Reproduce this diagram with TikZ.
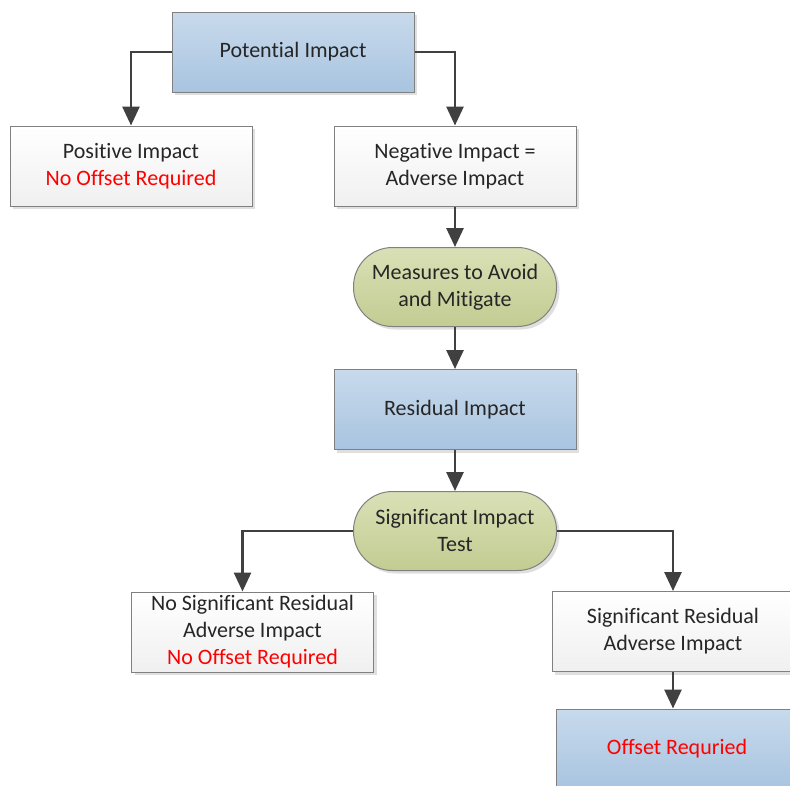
\documentclass[tikz,border=0pt]{standalone}
\usepackage{fontspec}
\setmainfont{Carlito}[Ligatures={NoCommon,NoContextual,NoRare}]
\usetikzlibrary{arrows.meta,shadows}
\definecolor{boxline}{RGB}{128,128,128}
\definecolor{arrgray}{RGB}{64,64,64}
\definecolor{bluetop}{RGB}{200,218,236}
\definecolor{bluebot}{RGB}{168,196,224}
\definecolor{greentop}{RGB}{218,224,182}
\definecolor{greenbot}{RGB}{194,204,146}
\definecolor{txt}{RGB}{38,38,38}
\definecolor{offred}{RGB}{255,0,0}

\begin{document}
\begin{tikzpicture}[x=1pt,y=-1pt,
  font=\fontsize{22}{27}\selectfont, text=txt,
  base/.style={draw=boxline, line width=1pt, align=center, minimum width=242pt,
    minimum height=80pt, inner sep=0pt,
    drop shadow={shadow xshift=3pt, shadow yshift=-3pt, opacity=0.25, fill=gray}},
  bluebox/.style={base, top color=bluetop, bottom color=bluebot},
  whitebox/.style={base, top color=white, bottom color=gray!12},
  pill/.style={base, minimum width=203pt, minimum height=79pt, rounded corners=39pt,
    top color=greentop, bottom color=greenbot},
  arr/.style={draw=arrgray, line width=2.8pt, -{Triangle[width=17pt,length=19pt]}}]
\clip (0,0) rectangle (790,785);
\fill[white] (0,0) rectangle (790,785);

% boxes
\node[bluebox] (pot) at (293,52) {Potential Impact};
\node[whitebox] (pos) at (131,166) {Positive Impact\\\textcolor{offred}{No Offset Required}};
\node[whitebox] (neg) at (455,166) {Negative Impact =\\Adverse Impact};
\node[pill] (meas) at (455,287) {Measures to Avoid\\and Mitigate};
\node[bluebox] (res) at (455,409.5) {Residual Impact};
\node[pill] (sit) at (455,531) {Significant Impact\\Test};
\node[whitebox] (nosig) at (252.5,632) {No Significant Residual\\Adverse Impact\\\textcolor{offred}{No Offset Required}};
\node[whitebox] (sig) at (673,631.5) {Significant Residual\\Adverse Impact};
\node[bluebox, text=offred] (off) at (677,749) {Offset Requried};

% arrows
\draw[arr] (pot.west) -| (pos.north);
\draw[arr] (pot.east) -| (neg.north);
\draw[arr] (neg) -- (meas);
\draw[arr] (meas) -- (res);
\draw[arr] (res) -- (sit);
\draw[arr] (sit.west) -| ([xshift=-10pt]nosig.north);
\draw[arr] (sit.east) -| (sig.north);
\draw[arr] (sig.south) -- (sig.south |- off.north);
\end{tikzpicture}
\end{document}
